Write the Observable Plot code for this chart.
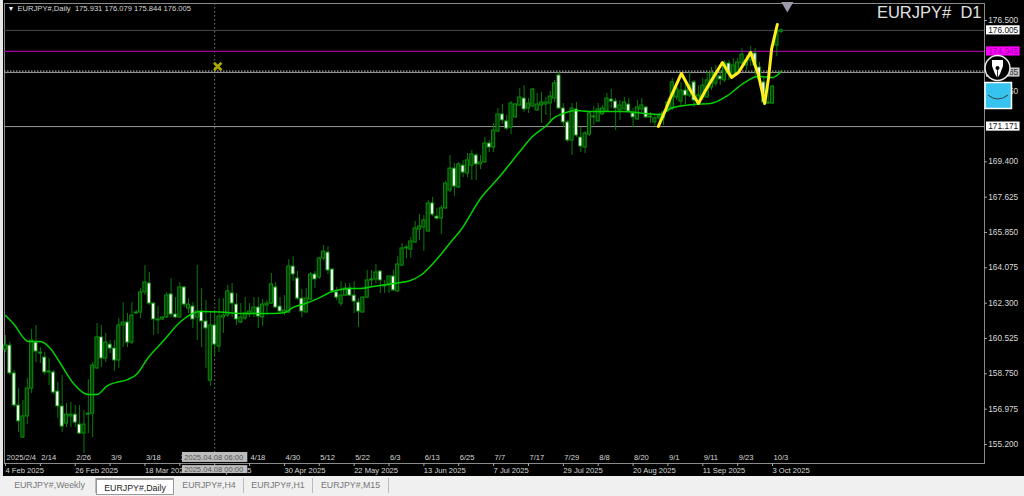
<!DOCTYPE html>
<html><head><meta charset="utf-8">
<script src="https://cdn.jsdelivr.net/npm/d3@7"></script>
<script src="https://cdn.jsdelivr.net/npm/@observablehq/plot@0.6"></script>
<style>
html,body{margin:0;padding:0;background:#000;overflow:hidden;width:1024px;height:496px;font-family:"Liberation Sans",sans-serif}
#wrap{position:relative;width:1024px;height:496px}
#chart svg{display:block;background:#000}
#strip{position:absolute;left:0;top:0;width:3px;height:476px;background:#e8e8e8}
#tabs{position:absolute;left:0;top:476px;width:1024px;height:20px;background:#f0f0f0;font-size:8.8px;color:#777}
#tabs span{position:absolute;top:2px;height:15px;line-height:15px;text-align:center;border-right:1px solid #bbb}
#tabs span.on{top:2px;height:17px;line-height:16px;background:#fff;color:#222;border:1px solid #999;border-top:2px solid #999;box-sizing:border-box}
#icons{position:absolute;left:0;top:0;pointer-events:none}
</style></head><body>
<div id="wrap"><div id="chart"></div><div id="strip"></div>
<svg id="icons" width="1024" height="476">
<circle cx="997.5" cy="68" r="12.5" fill="#000" stroke="#eee" stroke-width="1.5"/>
<path d="M992 60h11v6l-3 8-2.500 4-2.500-4-3-8z" fill="#fff"/><circle cx="997.500" cy="68" r="2" fill="#000"/><path d="M997.500 70v8" stroke="#000" stroke-width="0.800"/>
<rect x="985" y="82.500" width="26.500" height="26" fill="#36c3ef" stroke="#fff" stroke-width="1.500"/>
<path d="M988 95q9.500 8 20 0" fill="none" stroke="#333" stroke-width="0.900"/>
</svg>
<div id="tabs"><span style="left:4px;width:91px">EURJPY#,Weekly</span><span class="on" style="left:96px;width:78px">EURJPY#,Daily</span><span style="left:175px;width:68px">EURJPY#,H4</span><span style="left:244px;width:68px">EURJPY#,H1</span><span style="left:313px;width:75px">EURJPY#,M15</span></div>
</div>
<script>
const opens=[159.97,160.17,158.77,157.16,155.55,156.61,158.01,160.32,159.82,159.57,
158.87,158.82,157.86,157.11,156.25,156.61,156.70,156.20,155.75,156.70,
156.75,159.02,160.58,159.52,160.22,160.02,159.42,161.18,161.33,160.32,
161.78,161.83,162.84,163.29,162.28,161.48,161.48,161.58,162.74,161.73,
161.58,163.09,162.03,162.13,161.58,161.88,161.38,158.41,161.18,160.12,
161.58,161.68,162.79,162.23,161.33,161.53,161.73,161.78,162.08,161.58,
162.18,162.28,163.09,162.13,161.83,161.83,164.14,163.54,162.53,161.83,
162.48,163.74,163.59,164.54,164.84,163.99,162.84,162.28,162.68,163.04,
162.68,162.33,161.83,162.58,163.44,163.49,163.89,163.19,163.19,163.64,
162.89,164.19,165.05,164.99,165.35,166.00,166.10,165.90,167.31,166.65,
166.55,167.06,167.96,169.06,168.11,169.21,168.81,169.21,169.72,169.27,
169.37,170.32,170.12,170.92,171.78,171.43,171.12,171.63,172.23,172.58,
172.08,172.18,171.98,172.23,172.28,172.33,172.58,173.74,172.08,171.38,
170.47,172.03,170.62,170.12,170.77,171.68,171.43,171.78,171.93,172.53,
172.43,171.98,172.03,172.28,171.83,171.53,172.03,172.13,171.68,171.38,
171.58,171.58,171.98,172.08,172.63,172.43,172.98,172.73,173.39,172.33,
172.63,172.63,173.13,173.33,173.69,173.49,174.34,173.74,173.89,174.34,
174.24,174.49,174.84,174.14,173.39,172.33,172.33,175.24,175.931];
const highs=[160.68,160.32,158.92,158.01,157.41,158.51,160.98,161.18,160.07,159.82,
159.52,158.92,158.31,158.67,157.26,157.31,157.16,157.16,156.90,158.46,
159.32,161.28,161.18,160.78,160.42,160.42,161.53,162.33,161.78,162.33,
161.93,163.04,164.19,163.84,162.33,162.13,161.63,162.84,163.54,162.58,
163.34,163.14,162.53,162.33,164.19,163.04,162.43,161.83,161.93,162.53,
162.53,163.19,163.29,162.79,162.28,162.58,162.28,162.58,162.58,162.48,
162.43,163.79,163.34,162.58,162.68,164.49,164.64,163.89,162.99,163.04,
163.84,163.89,164.59,165.19,165.14,164.04,163.09,163.39,163.29,163.29,
163.39,162.53,162.63,163.94,163.94,164.24,163.94,163.44,163.64,163.94,
164.64,165.30,165.19,165.60,166.40,166.75,166.70,167.46,167.61,167.06,
167.21,168.41,169.72,169.31,169.37,169.47,169.82,169.97,169.82,169.72,
170.62,170.47,171.32,172.08,172.28,171.73,172.43,172.33,173.08,173.23,
172.58,173.08,172.83,172.88,172.63,172.93,173.49,173.89,172.33,171.48,
172.33,172.38,171.12,170.92,171.93,172.18,172.33,172.23,172.83,173.03,
172.58,172.48,172.63,172.58,172.08,172.48,172.58,172.18,171.88,171.73,
171.83,171.98,172.58,173.59,173.23,173.38,173.34,173.89,173.49,173.23,
173.59,173.89,174.14,174.24,173.99,174.49,174.49,174.59,174.59,175.09,
174.74,175.19,175.09,174.39,173.69,173.23,173.23,176.30,176.079];
const lows=[159.82,158.67,157.06,155.80,155.50,156.20,157.76,159.32,159.27,158.67,
158.16,157.71,156.51,155.80,156.05,156.05,156.05,155.70,154.75,155.75,
155.55,158.97,159.07,159.32,159.77,158.87,159.02,160.07,160.07,160.22,
161.73,161.53,162.69,162.18,160.68,160.73,161.43,161.53,161.58,161.53,
161.53,162.08,161.78,161.03,160.42,160.07,159.02,158.11,159.67,159.82,
160.78,161.58,161.58,161.18,161.28,161.43,161.58,161.58,161.03,161.13,
161.68,162.23,162.03,161.83,161.68,161.78,163.39,162.43,161.58,161.83,
162.43,163.04,163.49,164.44,163.74,162.79,162.43,162.13,162.63,162.63,
161.78,161.08,161.83,162.53,163.14,163.29,162.79,162.79,162.79,162.89,
162.84,164.14,164.54,164.54,165.30,165.45,164.90,165.85,166.65,166.45,
165.75,167.00,167.86,167.66,168.06,168.61,168.61,168.46,168.46,169.01,
169.32,169.87,169.87,170.87,171.28,170.97,170.77,171.58,172.18,171.88,
171.83,172.13,171.93,171.33,171.73,171.33,172.38,172.03,171.12,170.37,
169.72,170.62,169.87,169.82,170.67,171.23,171.38,171.73,171.88,172.08,
170.97,171.48,171.98,171.88,171.12,171.48,171.88,171.58,171.33,171.18,
171.18,171.23,171.88,171.98,172.48,172.23,172.28,172.63,172.13,172.28,
172.48,172.63,172.98,173.18,173.23,173.39,173.49,173.59,173.74,174.09,
173.99,174.19,173.59,173.39,172.23,172.28,172.28,174.69,175.844];
const closes=[160.17,158.77,157.16,156.36,156.61,158.01,160.42,159.87,159.77,158.82,
158.82,157.81,157.11,156.10,156.70,156.70,156.30,155.75,156.20,156.75,
159.17,160.58,159.52,160.32,160.02,159.42,161.18,161.33,160.32,161.68,
161.83,162.84,163.34,162.28,161.48,161.43,161.58,162.69,161.73,161.58,
163.09,162.23,162.23,161.48,161.88,161.38,161.03,161.18,160.22,161.63,
161.68,162.89,162.28,161.48,161.58,161.78,161.88,162.08,161.63,162.23,
162.28,163.24,162.08,161.88,161.93,164.14,163.74,162.53,161.88,162.53,
163.74,163.49,164.54,164.89,163.94,162.89,162.58,162.68,163.04,162.68,
162.38,161.88,162.58,163.44,163.49,163.84,163.44,163.14,163.64,162.94,
164.24,165.05,165.10,165.40,166.05,166.15,166.45,167.31,166.75,166.55,
167.06,168.31,169.06,168.16,169.27,168.86,169.47,169.77,169.27,169.37,
170.32,170.12,170.97,171.78,171.48,171.07,172.33,172.28,172.63,172.03,
172.33,173.03,172.28,172.38,172.38,172.68,173.34,172.08,171.38,170.47,
172.08,170.72,170.17,170.82,171.83,171.63,172.03,172.08,172.58,172.43,
172.08,172.23,172.38,171.93,171.63,172.13,172.23,171.63,171.63,171.58,
171.68,171.88,172.38,173.39,173.08,172.98,172.73,173.23,172.48,172.73,
173.23,173.49,173.84,173.84,173.54,174.34,173.84,174.24,174.39,174.79,
174.49,174.89,174.24,173.54,172.38,172.38,173.18,175.95,176.005];

const maBars=[0,1.8,5.3,8,10.3,12.6,15.6,19,21,23.4,25.2,28,30.3,32.6,36.3,40.2,44.7,50.9,53.9,61.3,64.2,65.9,68.8,71.6,75,79.2,81.5,84.4,89,92.9,95.2,99.1,102.1,104.4,109,113.6,118.2,120.9,124.4,125.7,128,130.8,134.2,141.1,150.3,152.6,157.9,161.8,165.7,169.3,172.6,176,178];
const maVals=[161.68,161.28,160.37,160.37,160.02,159.27,158.27,157.71,157.71,158.16,158.31,158.46,158.77,159.52,160.42,161.38,161.88,161.83,161.78,161.78,161.83,162.08,162.28,162.53,162.89,163.04,163.04,163.14,163.29,163.44,163.69,164.54,165.35,165.95,167.56,168.71,169.97,170.67,171.28,171.58,171.83,171.98,171.93,171.93,171.78,172.08,172.28,172.33,172.73,173.34,173.69,173.64,173.94];

const penBars=[149.8,151.4,152.6,155.1,157.2,159.0,160.6,164.5,166.6,168.2,171.0,172.8,174.2,175.1,175.8,177.1];
const penVals=[171.18,171.98,172.63,173.84,172.98,172.33,172.98,174.39,173.64,173.89,174.89,173.74,172.33,173.64,175.09,176.30];

const yTicks=[176.5,172.95,169.4,167.625,165.85,164.075,162.3,160.525,158.75,156.975,155.2];
const topLabels=["2025/2/4","2/14","2/26","3/9","3/18","3/28","4/8","4/18","4/30","5/12","5/22","6/3","6/13","6/25","7/7","7/17","7/29","8/8","8/20","9/1","9/11","9/23","10/3"];
const bottomLabels=["4 Feb 2025","26 Feb 2025","18 Mar 2025","9 Apr 2025","30 Apr 2025","22 May 2025","13 Jun 2025","7 Jul 2025","29 Jul 2025","20 Aug 2025","11 Sep 2025","3 Oct 2025"];
const levels=[176.005,174.945,173.885,171.171];
const greyLevels=[176.005];
const purpleLevels=[174.945];
const lightLevels=[173.885,171.171];
const boxFills=["#ffffff","#ff00ff","#c4c4c4","#ffffff"];
const boxInks=["#111","#a000a0","#333","#111"];
const dottedLevel=[173.96];
const crossBar=[48];
const markerBar=[48.7], markerVal=[174.19];
const topMarkerBar=[179.4], topMarkerVal=[177.25];
const crossTexts=["2025.04.08 06:00","2025.04.08 00:00"];

const candles=opens.map((o,i)=>({i,o,h:highs[i],l:lows[i],c:closes[i],up:closes[i]>=o}));
const ma=maBars.map((b,k)=>({b,v:maVals[k]}));
const pen=penBars.map((b,k)=>({b,v:penVals[k]}));
const lvl=levels.map((v,k)=>({v,k}));
const font="Liberation Sans";

const plot=Plot.plot({
  width:1024,height:476,marginLeft:4,marginRight:40,marginTop:3,marginBottom:13,
  style:{background:"#000",fontFamily:font},
  x:{type:"linear",domain:[-0.229,224.64],axis:null},
  y:{type:"linear",domain:[154.246,177.354],axis:null},
  marks:[
    Plot.frame({stroke:"#8a8a8a"}),
    Plot.ruleX(crossBar,{x:d=>d,stroke:"#777",strokeDasharray:"1.5,2.5"}),
    Plot.ruleY(dottedLevel,{y:d=>d,stroke:"#c8c8c8",strokeDasharray:"1.5,1.5"}),
    Plot.ruleY(greyLevels,{y:d=>d,stroke:"#4a4a4a"}),
    Plot.ruleY(purpleLevels,{y:d=>d,stroke:"#a000a0",strokeWidth:1.2}),
    Plot.ruleY(lightLevels,{y:d=>d,stroke:"#9a9a9a"}),
    Plot.ruleX(candles,{x:"i",y1:"l",y2:"h",stroke:"#0a7a0a",strokeWidth:1}),
    Plot.rect(candles,{x1:d=>d.i-0.36,x2:d=>d.i+0.36,y1:"o",y2:"c",
      fill:d=>d.up?"#013d01":"#ffffff",stroke:"#0a8f0a",strokeWidth:1}),
    Plot.line(ma,{x:"b",y:"v",stroke:"#00d200",strokeWidth:1.5,curve:"monotone-x"}),
    Plot.line(pen,{x:"b",y:"v",stroke:"#ffee1e",strokeWidth:3,strokeLinejoin:"round",strokeLinecap:"round"}),
    Plot.dot(markerBar,{x:d=>d,y:(d,k)=>markerVal[k],symbol:"times",r:3.5,stroke:"#a8a800",strokeWidth:2.6}),
    Plot.dot(topMarkerBar,{x:d=>d,y:(d,k)=>topMarkerVal[k],symbol:"triangle",rotate:180,r:4.5,fill:"#9a9aa8",stroke:"none"}),
    Plot.text(["▼"],{frameAnchor:"top-left",dx:3,dy:3,fontSize:7,fill:"#eee",textAnchor:"start"}),
    Plot.text(["EURJPY#,Daily  175.931 176.079 175.844 176.005"],{frameAnchor:"top-left",dx:13,dy:2,fontSize:7.6,fill:"#d8d8d8",textAnchor:"start",lineAnchor:"top"}),
    Plot.text(["EURJPY#  D1"],{frameAnchor:"top-right",dx:-3,dy:3,fontSize:16.5,fill:"#e0e0e0",textAnchor:"end",lineAnchor:"top"}),
    Plot.axisX({ticks:d3.range(0,177,8),tickFormat:()=>"",tickSize:3,stroke:"#aaa"}),
    Plot.text(topLabels,{x:(d,k)=>k*8,frameAnchor:"bottom",dy:-6,dx:1,textAnchor:"start",lineAnchor:"middle",fontSize:7.6,fill:"#d8d8d8"}),
    Plot.text(bottomLabels,{x:(d,k)=>k*16,frameAnchor:"bottom",dy:7,dx:0,textAnchor:"start",lineAnchor:"middle",fontSize:7.6,fill:"#d8d8d8"}),
    Plot.ruleY(yTicks,{y:d=>d,x1:()=>224.64,x2:()=>225.3,stroke:"#aaa"}),
    Plot.text(yTicks,{y:d=>d,x:()=>225.5,text:d=>d3.format(".3f")(d),textAnchor:"start",fontSize:8.3,fill:"#d8d8d8"}),
    Plot.rect(lvl,{x1:()=>225.1,x2:()=>232.8,y1:d=>d.v-0.23,y2:d=>d.v+0.23,fill:d=>boxFills[d.k]}),
    Plot.text(lvl,{x:()=>225.5,y:"v",text:d=>d3.format(".3f")(d.v),textAnchor:"start",fontSize:8.3,fill:d=>boxInks[d.k]}),
    Plot.rect(crossTexts,{x1:()=>40.6,x2:()=>55.6,y1:(d,k)=>k?153.74:154.3,y2:(d,k)=>k?154.14:154.8,fill:"#bdbdbd"}),
    Plot.text(crossTexts,{x:()=>41,y:(d,k)=>k?153.94:154.55,textAnchor:"start",fontSize:7.6,fill:"#555"})
  ]
});
document.getElementById("chart").appendChild(plot);
</script>
</body></html>
